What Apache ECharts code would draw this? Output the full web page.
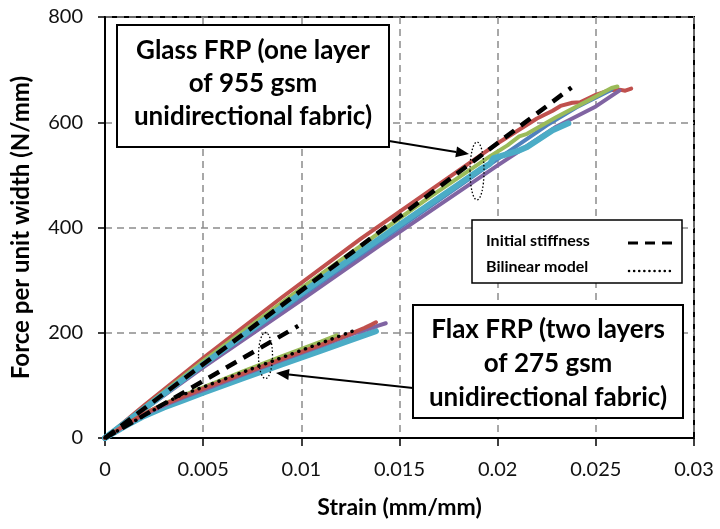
<!DOCTYPE html>
<html><head><meta charset="utf-8">
<script src="https://cdn.jsdelivr.net/npm/echarts@6/dist/echarts.min.js"></script>
<style>html,body{margin:0;padding:0;background:#fff}#c{width:720px;height:529px}</style>
</head><body><div id="c"></div>
<script>
// ---- tick labels ----
const xTickLabels = ['0', '0.005', '0.01', '0.015', '0.02', '0.025', '0.03'];
const yTickLabels = ['0', '200', '400', '600', '800'];

// ---- Glass FRP test curves [strain, force] ----
const glassRed = [[0,0],[0.002,62],[0.005,152],[0.009,267],[0.013,378],[0.017,482],[0.020,560],[0.022,607],[0.0228,622],[0.0232,631],[0.0238,637],[0.0242,638],[0.0250,652],[0.0257,661],[0.0262,662],[0.0265,660],[0.0268,664]];
const glassPurple = [[0,0],[0.005,134],[0.010,262],[0.014,366],[0.017,442],[0.020,518],[0.023,592],[0.0250,630],[0.0262,660]];
const glassBlue = [[0,0],[0.005,138],[0.010,270],[0.015,400],[0.020,530],[0.0225,594],[0.0240,628],[0.0258,662]];
const glassGreen = [[0,0],[0.005,146],[0.010,285],[0.0165,457],[0.019,520],[0.0196,535],[0.0205,556],[0.0211,573],[0.0215,578],[0.023,610],[0.0247,643],[0.0258,665],[0.0261,668]];
const glassAqua = [[0,0],[0.005,140],[0.010,275],[0.015,405],[0.0191,510],[0.0196,521],[0.0198,532],[0.021,545],[0.0215,553],[0.0228,585],[0.0236,598]];

// ---- Flax FRP test curves ----
const flaxRed = [[0,0],[0.001,24],[0.002,46],[0.003,64],[0.004,79],[0.005,94],[0.007,122],[0.009,150],[0.011,177],[0.0125,198],[0.0132,209],[0.0136,216],[0.0138,220]];
const flaxPurple = [[0,0],[0.001,23],[0.002,45],[0.003,62],[0.004,77],[0.005,91],[0.007,120],[0.009,148],[0.011,175],[0.0128,200],[0.0138,212],[0.0143,218]];
const flaxGreen = [[0,0],[0.001,24],[0.002,46],[0.003,65],[0.004,81],[0.005,96],[0.007,126],[0.009,155],[0.011,183],[0.0118,195]];
const flaxAqua = [[0,0],[0.001,22],[0.002,42],[0.003,58],[0.004,72],[0.005,86],[0.007,113],[0.009,140],[0.011,166],[0.0125,186],[0.0138,203]];

// ---- models ----
const glassInitialStiffness = [[0,0],[0.02376,666]];
const flaxInitialStiffness = [[0,0],[0.00984,213]];
const flaxBilinear = [[0,0],[0.00365,78],[0.0129,207]];

const C = {red:'#C0504D', green:'#9BBB59', purple:'#8064A2', aqua:'#4BACC6', blue:'#4F81BD'};
const FONT = 'Lato';

function ln(name, data, color, width, type, z) {
  return {name, type:'line', data, showSymbol:false, symbol:'none', z:z||2,
    lineStyle:{color, width, type:type||'solid', cap: 'round', join:'round'},
    silent:true};
}

const chart = echarts.init(document.getElementById('c'), null, {renderer:'canvas'});
const series = [
  ln('Glass red', glassRed, C.red, 4),
  ln('Glass purple', glassPurple, C.purple, 4),
  ln('Glass blue', glassBlue, C.blue, 4),
  ln('Glass green', glassGreen, C.green, 4),
  ln('Glass aqua', glassAqua, C.aqua, 6),
  ln('Flax aqua', flaxAqua, C.aqua, 6),
  ln('Flax green', flaxGreen, C.green, 4),
  ln('Flax purple', flaxPurple, C.purple, 4),
  ln('Flax red', flaxRed, C.red, 4),
  ln('Glass initial stiffness', glassInitialStiffness, '#000', 4.5, [12,8], 5),
  ln('Flax initial stiffness', flaxInitialStiffness, '#000', 4.5, [12,8], 5),
  ln('Bilinear model', flaxBilinear, '#000', 3.5, [0.1,7], 6)
];
series[9].lineStyle.cap = 'butt';
series[10].lineStyle.cap = 'butt';

function lab(labels, step) { return v => { const i = Math.round(v/step); return labels[i] !== undefined ? labels[i] : ''; }; }

function arrow(x1,y1,x2,y2) {
  const a = Math.atan2(y2-y1, x2-x1), L = 13, W = 5.5;
  const bx = x2 - L*Math.cos(a), by = y2 - L*Math.sin(a);
  return [
    {type:'line', shape:{x1,y1,x2:bx,y2:by}, style:{stroke:'#000', lineWidth:2}, z:20},
    {type:'polygon', shape:{points:[[x2,y2],[bx + W*Math.sin(a), by - W*Math.cos(a)],[bx - W*Math.sin(a), by + W*Math.cos(a)]]}, style:{fill:'#000'}, z:20}
  ];
}

function boxText(x, y, w, h, lines, ys, size) {
  const els = [{type:'rect', shape:{x, y, width:w, height:h}, style:{fill:'#fff', stroke:'#000', lineWidth:2}, z:30}];
  lines.forEach((t,i) => els.push({type:'text', x: x + w/2, y: ys[i], style:{text:t, fill:'#000', font:`bold ${size}px ${FONT}`, textAlign:'center', textVerticalAlign:'middle'}, z:31}));
  return els;
}

const graphic = [].concat(
  arrow(389,141,469,154),
  arrow(413,388,276,373),
  [{type:'ellipse', shape:{cx:477, cy:171, rx:7, ry:29}, style:{fill:'none', stroke:'#000', lineWidth:1.3, lineDash:[1.5,2]}, z:21},
   {type:'ellipse', shape:{cx:265.5, cy:355.5, rx:7, ry:23}, style:{fill:'none', stroke:'#000', lineWidth:1.3, lineDash:[1.5,2]}, z:21}],
  boxText(117, 25, 272, 122, ['Glass FRP (one layer','of 955 gsm','unidirectional fabric)'], [51,84,117], 26),
  boxText(413, 305, 270, 113, ['Flax FRP (two layers','of 275 gsm','unidirectional fabric)'], [330,364,398], 26),
  [{type:'rect', shape:{x:472, y:220, width:210, height:63}, style:{fill:'#fff', stroke:'#000', lineWidth:1.5}, z:30},
   {type:'text', x:486, y:241, style:{text:'Initial stiffness', fill:'#000', font:`bold 16px ${FONT}`, textVerticalAlign:'middle'}, z:31},
   {type:'text', x:486, y:267, style:{text:'Bilinear model', fill:'#000', font:`bold 16px ${FONT}`, textVerticalAlign:'middle'}, z:31},
   {type:'line', shape:{x1:628,y1:243,x2:676,y2:243}, style:{stroke:'#000', lineWidth:3, lineDash:[10,7]}, z:31},
   {type:'line', shape:{x1:629,y1:271,x2:672,y2:271}, style:{stroke:'#000', lineWidth:2.5, lineDash:[0.1,5], lineCap:'round'}, z:31}]
);

chart.setOption({
  animation:false,
  grid:{left:105, top:17, right:26, bottom:91, show:true, borderColor:'#000', borderWidth:2, containLabel:false},
  xAxis:{type:'value', min:0, max:0.03, interval:0.005,
    name:'Strain (mm/mm)', nameLocation:'middle', nameGap:58,
    nameTextStyle:{fontFamily:FONT, fontWeight:'bold', fontSize:23, color:'#000'},
    axisLine:{show:true, lineStyle:{color:'#000', width:2}},
    axisTick:{show:true, length:8, lineStyle:{color:'#000', width:1.5}},
    axisLabel:{fontFamily:FONT, fontSize:20, color:'#111', margin:22, formatter: lab(xTickLabels, 0.005)},
    splitLine:{show:true, lineStyle:{color:'#8c8c8c', width:1.5, type:[7,5]}}},
  yAxis:{type:'value', min:0, max:800, interval:200,
    name:'Force per unit width (N/mm)', nameLocation:'middle', nameGap:72,
    nameTextStyle:{fontFamily:FONT, fontWeight:'bold', fontSize:24, color:'#000'},
    axisLine:{show:true, onZero:false, lineStyle:{color:'#000', width:2}},
    axisTick:{show:true, length:7, lineStyle:{color:'#000', width:1.5}},
    axisLabel:{fontFamily:FONT, fontSize:20, color:'#111', margin:22, formatter: lab(yTickLabels, 200)},
    splitLine:{show:true, lineStyle:{color:'#8c8c8c', width:1.5, type:[7,5]}}},
  series,
  graphic
});
</script></body></html>
